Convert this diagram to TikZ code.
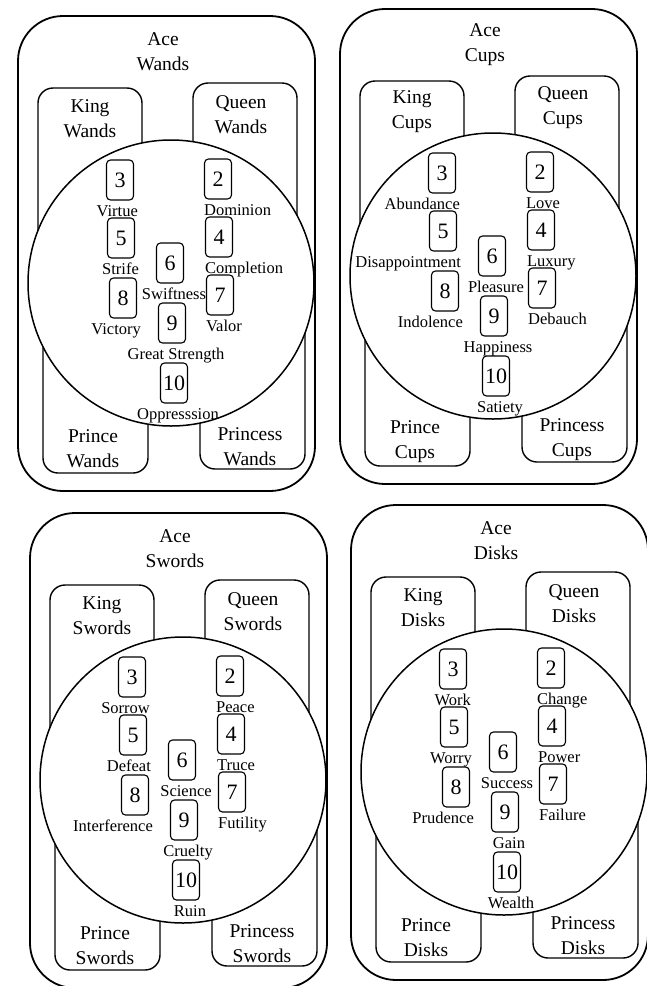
\documentclass[tikz,border=0pt]{standalone}
\usepackage{fontspec}
\setmainfont{Liberation Serif}
\usepackage{tikz}
\usetikzlibrary{positioning}

\tikzset{
  suitbox/.style={draw, line width=1.8pt, rounded corners=45pt},
  courtbox/.style={draw, line width=1.4pt, rounded corners=15pt},
  wheel/.style={draw, fill=white, line width=1.5pt},
  card/.style={draw, line width=1.1pt, rounded corners=4pt, minimum width=27pt,
    minimum height=40pt, inner sep=0pt, font=\fontsize{22}{26}\selectfont},
  title/.style={align=center, inner sep=0pt, font=\fontsize{19.5}{25}\selectfont},
  meaning/.style={inner sep=0pt, text height=12pt, text depth=4pt,
    font=\fontsize{16.5}{19}\selectfont},
}

\begin{document}
\begin{tikzpicture}[x=1pt, y=-1pt]
  \useasboundingbox (0,0) rectangle (646,986);

  % one panel per suit: centre of the wheel, suit, meanings of 2..10
  \foreach \cx/\cy/\st/\mtwo/\mthree/\mfour/\mfive/\msix/\mseven/\meight/\mnine/\mten in {
      171/283/Wands/Dominion/Virtue/Completion/Strife/Swiftness/Valor/Victory/Great Strength/Oppresssion,
      493/276/Cups/Love/Abundance/Luxury/Disappointment/Pleasure/Debauch/Indolence/Happiness/Satiety,
      183/780/Swords/Peace/Sorrow/Truce/Defeat/Science/Futility/Interference/Cruelty/Ruin,
      504/772/Disks/Change/Work/Power/Worry/Success/Failure/Prudence/Gain/Wealth}{
    \begin{scope}[shift={(\cx,\cy)}]
      % Ace frame and court boxes
      \draw[suitbox] (-153,-267) rectangle (144,208);
      \draw[courtbox] (-133,-195) rectangle (-29,-10);
      \draw[courtbox] (22,-200) rectangle (126,-10);
      \draw[courtbox] (-128,10) rectangle (-23,190);
      \draw[courtbox] (29,10) rectangle (134,186);

      \node[title] (ace-\st)      at (-8,-231) {Ace\\\st};
      \node[title] (king-\st)     at (-81,-164) {King\\\st};
      \node[title] (queen-\st)    at (70,-168) {Queen\\\st};
      \node[title] (prince-\st)   at (-78,166) {Prince\\\st};
      \node[title] (princess-\st) at (79,164) {Princess\\\st};

      % the wheel of small cards
      \draw[wheel] (0,0) circle[radius=143];
      \foreach \k/\x/\y in {2/47/-104, 3/-51/-103, 4/48/-46, 5/-50/-45, 6/-1/-20,
                            7/49/12, 8/-48/15, 9/1/40, 10/3/100}
        \node[card] (c\k-\st) at (\x,\y) {\k};

      % left column
      \node[meaning, below left=4pt and -4pt of c3-\st.south east] (m3-\st) {\mthree};
      \node[meaning, below left=4pt and -4pt of c5-\st.south east] (m5-\st) {\mfive};
      \node[meaning, below left=4pt and -4pt of c8-\st.south east] (m8-\st) {\meight};
      % right column
      \node[meaning, below right=4pt and 0pt of c2-\st.south west] (m2-\st) {\mtwo};
      \node[meaning, below right=4pt and 0pt of c4-\st.south west] (m4-\st) {\mfour};
      \node[meaning, below right=4pt and 0pt of c7-\st.south west] (m7-\st) {\mseven};
      % middle column
      \node[meaning, below=4pt of c6-\st.south, xshift=4pt] (m6-\st) {\msix};
      \node[meaning, below=4pt of c9-\st.south, xshift=4pt] (m9-\st) {\mnine};
      \node[meaning, below=4pt of c10-\st.south, xshift=4pt] (m10-\st) {\mten};
    \end{scope}
  }
\end{tikzpicture}
\end{document}
